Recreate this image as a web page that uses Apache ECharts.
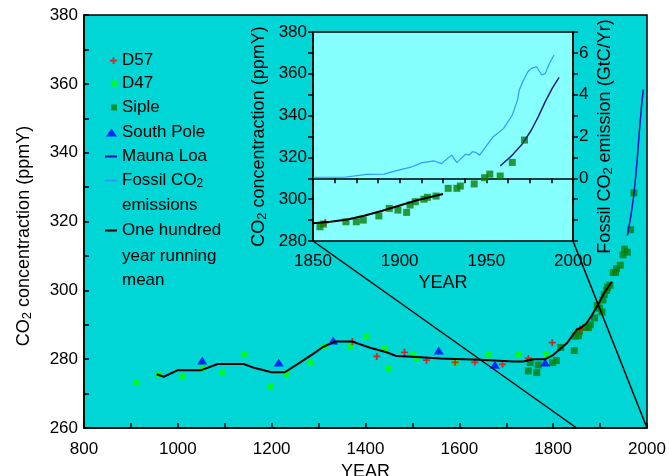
<!DOCTYPE html>
<html>
<head>
<meta charset="utf-8">
<script src="https://cdn.jsdelivr.net/npm/echarts@6/dist/echarts.min.js"></script>
<style>
  html, body { margin: 0; padding: 0; background: #fff; }
  #chart { width: 669px; height: 476px; }
</style>
</head>
<body>
<div id="chart"></div>
<script>
// values
const d57Year = [1372, 1424, 1483, 1530, 1591, 1633, 1692, 1747, 1798, 1857]
const d57Co2 = [285.1, 280.8, 282.0, 279.7, 279.1, 279.1, 278.5, 280.2, 284.8, 288.8]

const d47Year = [911, 958, 1010, 1052, 1095, 1142, 1197, 1232, 1283, 1313, 1368, 1402, 1440, 1448, 1502, 1509, 1592, 1662, 1726, 1786]
const d47Co2 = [273.3, 275.6, 274.9, 277.5, 276.1, 281.3, 272.0, 275.6, 279.0, 283.6, 283.6, 286.5, 283.2, 277.3, 281.5, 280.2, 279.1, 281.5, 281.5, 281.5]

const sipleYear = [1747, 1751, 1765, 1768, 1799, 1807, 1816, 1845, 1847, 1854, 1856, 1869, 1875, 1879, 1888, 1894, 1899, 1904, 1906, 1909, 1914, 1916, 1921, 1928, 1933, 1935, 1943, 1949, 1952, 1958, 1965, 1972]
const sipleCo2 = [276.6, 279.0, 276.1, 278.3, 279.0, 279.6, 283.4, 282.5, 286.7, 286.8, 288.1, 289.2, 289.2, 290.0, 292.0, 295.6, 294.8, 293.7, 297.2, 298.8, 300.0, 300.9, 301.5, 305.2, 305.2, 306.3, 307.3, 310.3, 312.0, 311.1, 317.6, 328.3]

const poleYear = [1052, 1215, 1331, 1556, 1676, 1783]
const poleCo2 = [279.6, 279.0, 285.4, 282.5, 278.4, 279.0]

const maunaYear = [1958, 1965, 1971, 1976, 1980, 1984, 1988, 1992]
const maunaCo2 = [315.9, 321.1, 326.7, 333.1, 339.5, 346.7, 353.0, 358.3]

const fossilYear = [1850, 1868, 1881, 1891, 1896, 1907, 1913, 1920, 1924, 1930, 1933, 1938, 1940, 1942, 1944, 1946, 1954, 1960, 1965, 1968, 1969, 1971, 1974, 1976, 1979, 1982, 1984, 1986, 1989]
const fossilGtc = [0.05, 0.05, 0.19, 0.2, 0.32, 0.55, 0.75, 0.83, 0.7, 1.11, 0.75, 1.15, 1.11, 1.27, 1.24, 1.1, 1.99, 2.39, 3.03, 3.75, 4.23, 4.62, 5.1, 5.26, 5.34, 4.94, 5.02, 5.42, 5.9]

const meanYear = [955, 970, 1000, 1050, 1085, 1140, 1160, 1200, 1228, 1260, 1290, 1310, 1335, 1372, 1410, 1445, 1466, 1500, 1560, 1645, 1715, 1736, 1758, 1783, 1800, 1829, 1850, 1860, 1870, 1880, 1890, 1900, 1910, 1925]
const meanCo2 = [275.6, 274.9, 276.8, 276.8, 278.6, 278.6, 277.6, 276.2, 276.2, 279.0, 281.7, 283.6, 285.1, 285.1, 283.3, 282.0, 280.9, 280.7, 280.2, 279.8, 279.3, 279.3, 280.0, 280.0, 281.2, 284.6, 288.5, 289.2, 290.3, 292.2, 294.5, 297.0, 299.5, 302.5]

const FONT = '"Liberation Sans", Arial, sans-serif'
const CYAN = '#00d6d6'
const LIGHT = '#86ffff'
const plus = 'path://M3,0h2v3h3v2h-3v3h-2v-3h-3v-2h3z'

const zip = (a, b) => a.map((v, i) => [v, b[i]])
// only every n-th tick gets a label
const every = n => v => (v % n === 0 ? String(v) : '')

const sub = { fontSize: 12, fontFamily: FONT, color: '#000', padding: [7, 0, 0, 0] }
const txt = { fontSize: 17, fontFamily: FONT, color: '#000', rich: { s: sub } }
const title = { fontSize: 18, fontFamily: FONT, color: '#000', rich: { s: { fontSize: 13, fontFamily: FONT, color: '#000', padding: [7, 0, 0, 0] } } }

function legendItem (name, icon, w, h, cy, label) {
  const lg = {
    data: [{ name: name, icon: icon }],
    left: 122 - 5 - w,
    top: cy - 9,
    itemWidth: w,
    itemHeight: h,
    padding: 0,
    selectedMode: false,
    textStyle: txt
  }
  if (label) lg.formatter = () => label
  return lg
}

const line = { lineStyle: { color: '#000', width: 1.5 } }
const label = (fmt, margin) => ({ color: '#000', fontSize: 17, fontFamily: FONT, formatter: fmt, margin: margin })

const chart = echarts.init(document.getElementById('chart'))

chart.setOption({
  animation: false,
  backgroundColor: '#fff',
  grid: [
    { left: 84, top: 15, width: 563, height: 413, outerBoundsMode: 'none', show: true, backgroundColor: CYAN, borderColor: '#000', borderWidth: 1.5 },
    { left: 313, top: 32, width: 260, height: 209, outerBoundsMode: 'none', show: true, backgroundColor: LIGHT, borderColor: '#000', borderWidth: 1.5 }
  ],
  legend: [
    legendItem('D57', plus, 7, 7, 61),
    legendItem('D47', 'rect', 6, 6, 84),
    legendItem('Siple', 'rect', 6, 6, 108),
    legendItem('South Pole', 'triangle', 11, 8, 133),
    legendItem('Mauna Loa', 'rect', 12, 2, 157),
    legendItem('Fossil CO2 emissions', 'rect', 12, 2, 181, 'Fossil CO{s|2}'),
    legendItem('One hundred year running mean', 'rect', 12, 2, 231, 'One hundred')
  ],
  xAxis: [
    {
      gridIndex: 0, type: 'value', min: 800, max: 2000, interval: 100,
      name: 'YEAR', nameLocation: 'middle', nameGap: 33, nameTextStyle: title,
      axisLine: line, splitLine: { show: false },
      axisTick: { inside: true, length: 5, lineStyle: line.lineStyle },
      axisLabel: label(every(200), 13)
    },
    {
      gridIndex: 1, type: 'value', min: 1850, max: 2000, interval: 12.5,
      name: 'YEAR', nameLocation: 'middle', nameGap: 33, nameTextStyle: title,
      axisLine: line, splitLine: { show: false },
      axisTick: { length: 5, lineStyle: line.lineStyle },
      axisLabel: label(every(50), 12)
    }
  ],
  yAxis: [
    {
      gridIndex: 0, type: 'value', min: 260, max: 380, interval: 10,
      axisLine: line, splitLine: { show: false },
      axisTick: { inside: true, length: 5, lineStyle: line.lineStyle },
      axisLabel: label(every(20), 6)
    },
    {
      gridIndex: 1, type: 'value', min: 280, max: 380, interval: 10,
      name: 'CO{s|2} concentraction (ppmY)', nameLocation: 'middle', nameGap: 44, nameRotate: 90, nameTextStyle: title,
      axisLine: line, splitLine: { show: false },
      axisTick: { length: 5, lineStyle: line.lineStyle },
      axisLabel: label(every(20), 6)
    },
    {
      gridIndex: 1, type: 'value', position: 'right', min: -3, max: 7, interval: 1,
      name: 'Fossil CO{s|2} emission (GtC/Yr)', nameLocation: 'middle', nameGap: 22, nameRotate: 90, nameTextStyle: title,
      axisLine: line, splitLine: { show: false },
      axisTick: { length: 5, lineStyle: line.lineStyle },
      axisLabel: label(v => (v >= 0 && v % 2 === 0 ? String(v) : ''), 6)
    }
  ],
  series: [
    { name: 'One hundred year running mean', type: 'line', xAxisIndex: 0, yAxisIndex: 0, data: zip(meanYear, meanCo2), symbol: 'none', lineStyle: { color: '#000', width: 2 }, itemStyle: { color: '#000' }, z: 3 },
    { name: 'Mauna Loa', type: 'line', xAxisIndex: 0, yAxisIndex: 0, data: zip(maunaYear, maunaCo2), symbol: 'none', lineStyle: { color: '#1010b0', width: 1.5 }, itemStyle: { color: '#1010b0' } },
    { name: 'D47', type: 'scatter', xAxisIndex: 0, yAxisIndex: 0, data: zip(d47Year, d47Co2), symbol: 'rect', symbolSize: 6, itemStyle: { color: '#00ff00' } },
    { name: 'Siple', type: 'scatter', xAxisIndex: 0, yAxisIndex: 0, data: zip(sipleYear, sipleCo2), symbol: 'rect', symbolSize: 7, itemStyle: { color: '#0a800a' } },
    { name: 'D57', type: 'scatter', xAxisIndex: 0, yAxisIndex: 0, data: zip(d57Year, d57Co2), symbol: plus, symbolSize: 7, itemStyle: { color: '#ff0000' } },
    { name: 'South Pole', type: 'scatter', xAxisIndex: 0, yAxisIndex: 0, data: zip(poleYear, poleCo2), symbol: 'triangle', symbolSize: [10, 8], itemStyle: { color: '#0000ff' } },
    // inset
    { name: 'Fossil CO2 emissions', type: 'line', xAxisIndex: 1, yAxisIndex: 2, data: zip(fossilYear, fossilGtc), symbol: 'none', lineStyle: { color: '#3399ff', width: 1.2 }, itemStyle: { color: '#3399ff' } },
    { name: 'One hundred year running mean', type: 'line', xAxisIndex: 1, yAxisIndex: 1, data: zip(meanYear, meanCo2), symbol: 'none', lineStyle: { color: '#000', width: 2 }, z: 3 },
    { name: 'Mauna Loa', type: 'line', xAxisIndex: 1, yAxisIndex: 1, data: zip(maunaYear, maunaCo2), symbol: 'none', lineStyle: { color: '#202080', width: 1.5 } },
    { name: 'Siple', type: 'scatter', xAxisIndex: 1, yAxisIndex: 1, data: zip(sipleYear, sipleCo2), symbol: 'rect', symbolSize: 7, itemStyle: { color: '#0a800a' }, clip: true },
    { name: 'D57', type: 'scatter', xAxisIndex: 1, yAxisIndex: 1, data: zip(d57Year, d57Co2), symbol: plus, symbolSize: 7, itemStyle: { color: '#ff0000' }, clip: true }
  ]
})

// connector lines from the inset corners down to the main axis
const p1 = chart.convertToPixel({ xAxisIndex: 1, yAxisIndex: 1 }, [1850, 280])
const p2 = chart.convertToPixel({ xAxisIndex: 0, yAxisIndex: 0 }, [1850, 260])
const p3 = chart.convertToPixel({ xAxisIndex: 1, yAxisIndex: 1 }, [2000, 280])
const p4 = chart.convertToPixel({ xAxisIndex: 0, yAxisIndex: 0 }, [2000, 260])

const conn = (a, b) => ({
  type: 'line', z: 10, silent: true,
  shape: { x1: a[0], y1: a[1], x2: b[0], y2: b[1] },
  style: { stroke: '#000', lineWidth: 1.5 }
})
const more = (s, y) => ({
  type: 'text', x: 122, y: y, z: 10,
  style: { text: s, fontSize: 17, fontFamily: FONT, fill: '#000', verticalAlign: 'middle' }
})

chart.setOption({
  graphic: [
    conn(p1, p2),
    conn(p3, p4),
    more('emissions', 205),
    more('year running', 256),
    more('mean', 280),
    {
      type: 'text', x: 24, y: 236, rotation: Math.PI / 2, z: 10,
      style: {
        text: 'CO{s|2} concentraction (ppmY)', fontSize: 18, fontFamily: FONT, fill: '#000',
        align: 'center', verticalAlign: 'middle', rich: title.rich
      }
    }
  ]
})
</script>
</body>
</html>
